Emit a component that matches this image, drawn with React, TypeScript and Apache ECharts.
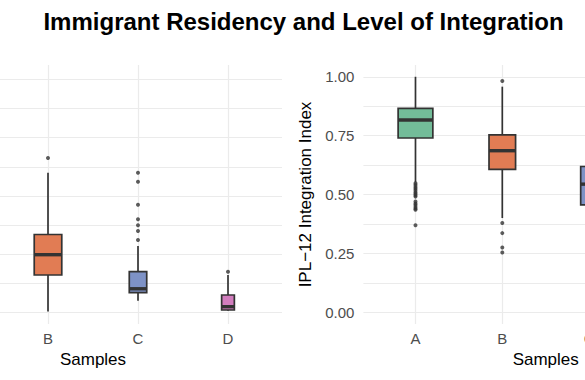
import React, { useEffect, useRef } from 'react';
import * as echarts from 'echarts';

// ---------- data ----------
const categories = ['A', 'B', 'C', 'D'];
const categoryPositions = [1, 2, 3, 4];
// group sizes (drive the variable box widths, as ggplot's varwidth does)
const sampleSizes = [1000, 585, 235, 125];

// left panel (residency) : [lower whisker, Q1, median, Q3, upper whisker]
const residencyStats = [
  [0.5, 8.0, 15.0, 24.0, 40.4],
  [0.2, 6.46, 9.94, 13.4, 24.0],
  [2.06, 3.43, 4.1, 7.03, 11.43],
  [0.35, 0.46, 1.03, 3.03, 6.46],
];
const residencyOutliers = [
  [],
  [26.5],
  [12.46, 14.0, 14.97, 16.0, 18.5, 22.45, 24.0],
  [7.03],
];
const residencyGridValues = [0, 5, 10, 15, 20, 25, 30, 35, 40];

// right panel (IPL-12 integration index)
const integrationStats = [
  [0.551, 0.74, 0.8165, 0.866, 1.0],
  [0.4, 0.607, 0.686, 0.753, 0.958],
  [0.25, 0.456, 0.544, 0.619, 0.85],
  [0.02, 0.2, 0.33, 0.45, 0.78],
];
const integrationOutliers = [
  [0.548, 0.54, 0.532, 0.525, 0.518, 0.51, 0.503, 0.497, 0.491, 0.47, 0.462, 0.455, 0.447, 0.44, 0.435, 0.369],
  [0.982, 0.379, 0.336, 0.275, 0.254],
  [],
  [],
];
const integrationTickLabels = [0, 0.25, 0.5, 0.75, 1.0];
const integrationGridValues = [0, 0.125, 0.25, 0.375, 0.5, 0.625, 0.75, 0.875, 1.0];

const titleText = 'Immigrant Residency and Level of Integration';
const yTitleRight = 'IPL\u221212 Integration Index';
const xTitle = 'Samples';

// ---------- styles ----------
const palette = ['#73BC99', '#E17C54', '#7E92C6', '#D27DBE'];
const FONT = '"Liberation Sans", Arial, Helvetica, sans-serif';
const GRID_COLOR = '#EBEBEB';
const INK = '#333333';
const MAX_BOX_WIDTH = 0.4;
const nMax = Math.max(...sampleSizes);

const boxData = (stats: number[][]) =>
  stats.map((s, i) => [categoryPositions[i], ...s, sampleSizes[i]]);
const outlierData = (outs: number[][]) => {
  const res: number[][] = [];
  outs.forEach((arr, i) => arr.forEach((v) => res.push([categoryPositions[i], v])));
  return res;
};

const renderBox = (params: any, api: any) => {
  const x = api.value(0);
  const n = api.value(6);
  const idx = categoryPositions.indexOf(x);
  const w = api.size([MAX_BOX_WIDTH * Math.sqrt(n / nMax), 0])[0];
  const lo = api.coord([x, api.value(1)]);
  const q1 = api.coord([x, api.value(2)]);
  const med = api.coord([x, api.value(3)]);
  const q3 = api.coord([x, api.value(4)]);
  const hi = api.coord([x, api.value(5)]);
  const lineStyle = { stroke: INK, lineWidth: 1.7 };
  return {
    type: 'group',
    children: [
      { type: 'line', shape: { x1: lo[0], y1: lo[1], x2: q1[0], y2: q1[1] }, style: lineStyle },
      { type: 'line', shape: { x1: q3[0], y1: q3[1], x2: hi[0], y2: hi[1] }, style: lineStyle },
      {
        type: 'rect',
        shape: { x: q3[0] - w / 2, y: q3[1], width: w, height: q1[1] - q3[1] },
        style: { fill: palette[idx], stroke: INK, lineWidth: 1.7 },
      },
      {
        type: 'line',
        shape: { x1: med[0] - w / 2, y1: med[1], x2: med[0] + w / 2, y2: med[1] },
        style: { stroke: INK, lineWidth: 3.4 },
      },
    ],
  };
};

const catLabel = (v: number) => categories[categoryPositions.indexOf(v)] ?? '';

const makeXAxis = (gridIndex: number) => ({
  type: 'value',
  gridIndex,
  min: 0.4,
  max: 4.6,
  name: xTitle,
  nameLocation: 'middle',
  nameGap: 26,
  nameTextStyle: { color: '#000', fontSize: 17, fontFamily: FONT },
  axisLine: { show: false },
  axisTick: { show: false, customValues: categoryPositions },
  axisLabel: {
    customValues: categoryPositions,
    formatter: catLabel,
    color: '#4D4D4D',
    fontSize: 15,
    fontFamily: FONT,
    margin: 7,
  },
  splitLine: { show: true, lineStyle: { color: GRID_COLOR, width: 1.2 } },
});

export default function App() {
  const ref = useRef<HTMLDivElement>(null);
  useEffect(() => {
    if (!ref.current) return;
    const chart = echarts.init(ref.current, undefined, { renderer: 'svg' });
    chart.setOption({
      animation: false,
      backgroundColor: '#ffffff',
      textStyle: { fontFamily: FONT },
      graphic: [
        {
          type: 'text',
          x: 303.5,
          y: 21,
          style: {
            text: titleText,
            font: `bold 24px ${FONT}`,
            fill: '#000',
            textAlign: 'center',
            textVerticalAlign: 'middle',
          },
        },
      ],
      grid: [
        { left: -96, top: 65, width: 378, height: 259, outerBoundsMode: 'none', containLabel: false },
        { left: 363.4, top: 65, width: 364.6, height: 259, outerBoundsMode: 'none', containLabel: false },
      ],
      xAxis: [makeXAxis(0), makeXAxis(1)],
      yAxis: [
        {
          type: 'value',
          gridIndex: 0,
          min: -1.94,
          max: 42.45,
          axisLine: { show: false },
          axisTick: { show: false, customValues: residencyGridValues },
          axisLabel: { show: false },
          splitLine: { show: true, lineStyle: { color: GRID_COLOR, width: 1.2 } },
        },
        {
          type: 'value',
          gridIndex: 1,
          min: -0.05,
          max: 1.05,
          name: yTitleRight,
          nameLocation: 'middle',
          nameRotate: 90,
          nameGap: 45,
          nameTextStyle: { color: '#000', fontSize: 17, fontFamily: FONT },
          axisLine: { show: false },
          axisTick: { show: false, customValues: integrationGridValues },
          axisLabel: {
            customValues: integrationTickLabels,
            formatter: (v: number) => v.toFixed(2),
            color: '#4D4D4D',
            fontSize: 15,
            fontFamily: FONT,
            margin: 9,
          },
          splitLine: { show: true, lineStyle: { color: GRID_COLOR, width: 1.2 } },
        },
      ],
      series: [
        {
          type: 'custom',
          xAxisIndex: 0,
          yAxisIndex: 0,
          renderItem: renderBox,
          encode: { x: 0, y: [1, 2, 3, 4, 5] },
          data: boxData(residencyStats),
          silent: true,
        },
        {
          type: 'scatter',
          xAxisIndex: 0,
          yAxisIndex: 0,
          symbolSize: 4,
          itemStyle: { color: INK },
          data: outlierData(residencyOutliers),
          silent: true,
        },
        {
          type: 'custom',
          xAxisIndex: 1,
          yAxisIndex: 1,
          renderItem: renderBox,
          encode: { x: 0, y: [1, 2, 3, 4, 5] },
          data: boxData(integrationStats),
          silent: true,
        },
        {
          type: 'scatter',
          xAxisIndex: 1,
          yAxisIndex: 1,
          symbolSize: 4,
          itemStyle: { color: INK },
          data: outlierData(integrationOutliers),
          silent: true,
        },
      ],
    });
    return () => chart.dispose();
  }, []);
  return (
    <div
      ref={ref}
      style={{ position: 'absolute', left: 0, top: 0, width: 585, height: 380 }}
    />
  );
}
